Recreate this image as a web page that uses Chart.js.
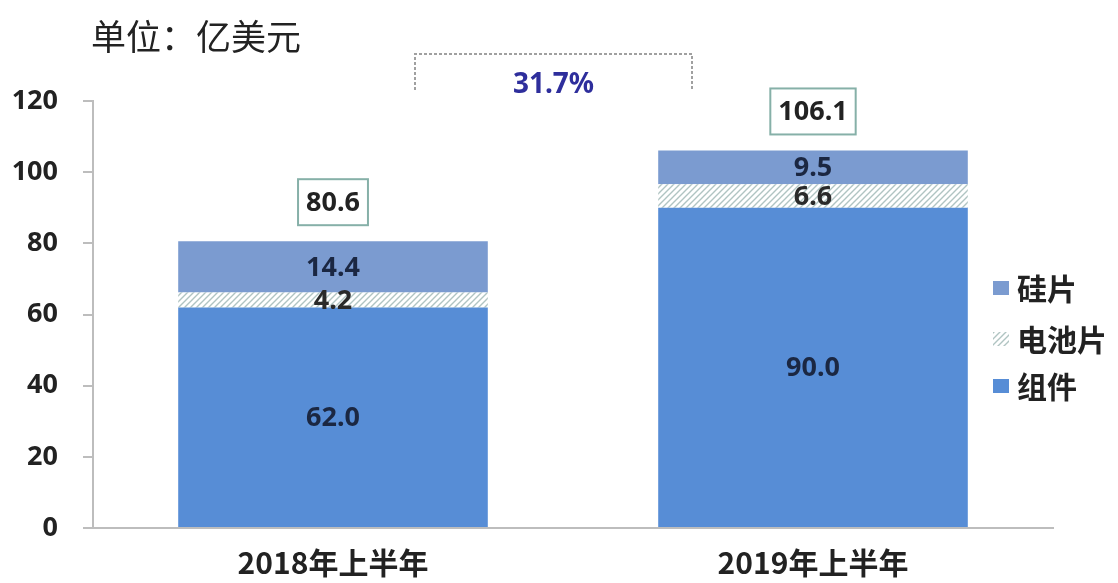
<!DOCTYPE html>
<html>
<head>
<meta charset="utf-8">
<script src="https://cdn.jsdelivr.net/npm/chart.js@4/dist/chart.umd.min.js"></script>
<style>
  html, body { margin: 0; padding: 0; background: #ffffff; }
  #wrap { width: 1118px; height: 583px; position: relative; }
</style>
</head>
<body>
<div id="wrap"><canvas id="c" width="1118" height="583"></canvas></div>
<script>
// ---- data ----
const categories = ['2018年上半年', '2019年上半年'];
const moduleValues = [62.0, 90.0];   // 组件
const cellValues = [4.2, 6.6];       // 电池片
const waferValues = [14.4, 9.5];     // 硅片
const totals = [80.6, 106.1];
const growthLabel = '31.7%';
const unitLabel = '单位：亿美元';
const seriesNames = ['组件', '电池片', '硅片'];
const yTicks = [0, 20, 40, 60, 80, 100, 120];

// ---- hatch pattern ----
function makeHatch() {
  const p = document.createElement('canvas');
  p.width = 6; p.height = 6;
  const g = p.getContext('2d');
  g.fillStyle = '#ffffff';
  g.fillRect(0, 0, 6, 6);
  g.strokeStyle = '#b0c4c2';
  g.lineWidth = 1.4;
  g.beginPath();
  g.moveTo(-1, 7); g.lineTo(7, -1);
  g.moveTo(-4, 4); g.lineTo(4, -4);
  g.moveTo(2, 10); g.lineTo(10, 2);
  g.stroke();
  return document.getElementById('c').getContext('2d').createPattern(p, 'repeat');
}
const hatch = makeHatch();
const colModule = '#578dd6';
const colWafer = '#7b9bd0';

const FONT = '"Noto Sans", "Noto Sans CJK SC", sans-serif';
const CJK = '"Noto Sans CJK SC", "Noto Sans", sans-serif';

const extras = {
  id: 'extras',
  afterDatasetsDraw(chart) {
    const ctx = chart.ctx;
    ctx.save();
    // segment labels
    ctx.textAlign = 'center';
    ctx.textBaseline = 'middle';
    ctx.font = 'bold 27px ' + FONT;
    chart.data.datasets.forEach((ds, di) => {
      const meta = chart.getDatasetMeta(di);
      meta.data.forEach((el, i) => {
        const cy = (el.y + el.base) / 2;
        ctx.fillStyle = di === 1 ? '#2a2a2a' : '#1b2742';
        ctx.fillText(ds.data[i].toFixed(1), el.x, cy + 1);
      });
    });
    // totals boxes
    const topMeta = chart.getDatasetMeta(chart.data.datasets.length - 1);
    topMeta.data.forEach((el, i) => {
      const txt = totals[i].toFixed(1);
      ctx.font = 'bold 27px ' + FONT;
      const w = ctx.measureText(txt).width + 16;
      const h = 46;
      const cy = el.y - 39;
      ctx.fillStyle = '#ffffff';
      ctx.fillRect(el.x - w / 2, cy - h / 2, w, h);
      ctx.strokeStyle = '#86b0a8';
      ctx.lineWidth = 2;
      ctx.strokeRect(el.x - w / 2, cy - h / 2, w, h);
      ctx.fillStyle = '#222222';
      ctx.fillText(txt, el.x, cy + 1);
    });
    ctx.restore();
  },
  afterDraw(chart) {
    const ctx = chart.ctx;
    ctx.save();
    // unit title
    ctx.fillStyle = '#222222';
    ctx.font = '35px ' + CJK;
    ctx.textAlign = 'left';
    ctx.textBaseline = 'middle';
    ctx.fillText(unitLabel, 91, 37);
    // bracket
    const xs = chart.scales.x;
    const x0 = xs.getPixelForValue(0) + 82;
    const x1 = xs.getPixelForValue(1) - 121;
    ctx.strokeStyle = '#a0a0a0';
    ctx.lineWidth = 2;
    ctx.setLineDash([3, 2]);
    ctx.beginPath();
    ctx.moveTo(x0, 90); ctx.lineTo(x0, 54); ctx.lineTo(x1, 54); ctx.lineTo(x1, 90);
    ctx.stroke();
    ctx.setLineDash([]);
    ctx.fillStyle = '#2e2e9c';
    ctx.font = 'bold 28px ' + FONT;
    ctx.textAlign = 'center';
    ctx.fillText(growthLabel, (x0 + x1) / 2, 85);
    // legend
    const items = [
      { name: seriesNames[2], fill: colWafer, y: 288 },
      { name: seriesNames[1], fill: hatch, y: 339 },
      { name: seriesNames[0], fill: colModule, y: 386 }
    ];
    ctx.textAlign = 'left';
    ctx.font = 'bold 30px ' + CJK;
    items.forEach(it => {
      ctx.fillStyle = it.fill;
      ctx.fillRect(993, it.y - 7, 16, 14);
      ctx.fillStyle = '#222222';
      ctx.fillText(it.name, 1017, it.y + 1);
    });
    ctx.restore();
  }
};

new Chart(document.getElementById('c'), {
  type: 'bar',
  data: {
    labels: categories,
    datasets: [
      { label: seriesNames[0], data: moduleValues, backgroundColor: colModule },
      { label: seriesNames[1], data: cellValues, backgroundColor: hatch },
      { label: seriesNames[2], data: waferValues, backgroundColor: colWafer }
    ]
  },
  options: {
    responsive: false,
    animation: false,
    devicePixelRatio: 1,
    layout: { padding: { top: 101, right: 65, left: 0, bottom: 0 } },
    plugins: { legend: { display: false }, tooltip: { enabled: false } },
    datasets: { bar: { categoryPercentage: 1, barPercentage: 0.645, borderWidth: 0 } },
    scales: {
      x: {
        stacked: true,
        afterFit(s) { s.height = 55; },
        grid: { display: false, drawTicks: false },
        border: { display: true, color: '#bdbdbd', width: 2 },
        ticks: { padding: 17, color: '#222222', font: { family: CJK, size: 30, weight: 'bold' } }
      },
      y: {
        stacked: true,
        min: 0, max: 120,
        afterFit(s) { s.width = 93; },
        afterBuildTicks(s) { s.ticks = yTicks.map(v => ({ value: v })); },
        grid: { drawOnChartArea: false, drawTicks: true, tickLength: 10, color: '#bdbdbd', lineWidth: 2 },
        border: { display: true, color: '#bdbdbd', width: 2 },
        ticks: { padding: 25, color: '#222222', font: { family: FONT, size: 27, weight: 'bold' } }
      }
    }
  },
  plugins: [extras]
});
</script>
</body>
</html>
